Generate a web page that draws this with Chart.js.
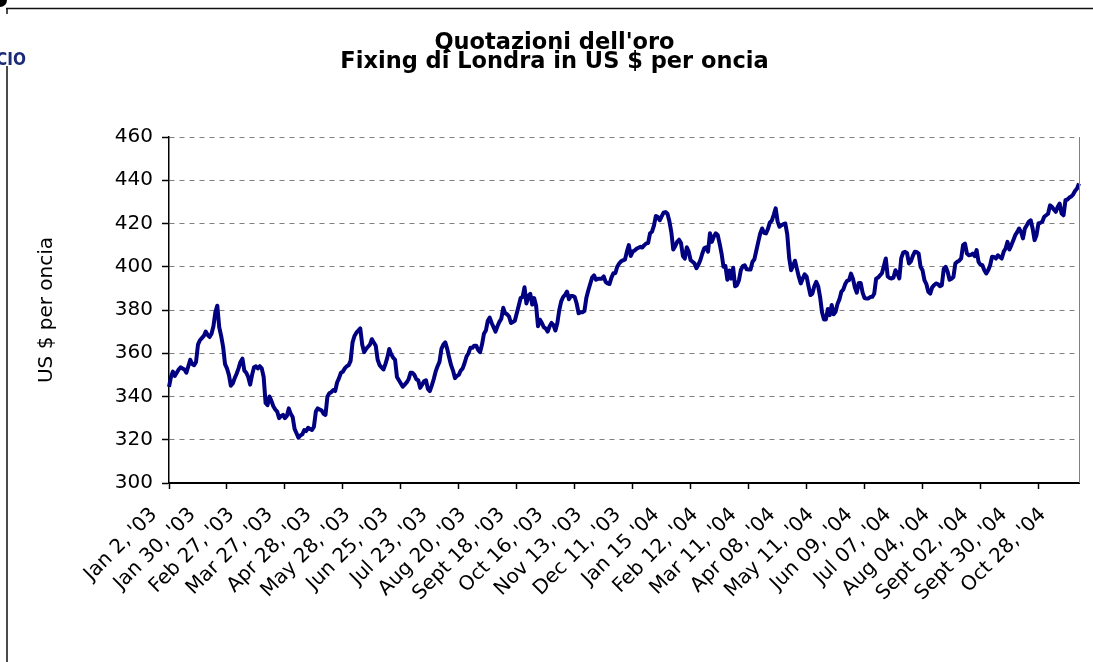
<!DOCTYPE html>
<html>
<head>
<meta charset="utf-8">
<title>Quotazioni dell'oro</title>
<script src="https://cdn.jsdelivr.net/npm/chart.js@4.4.1/dist/chart.umd.min.js"></script>
<style>
  html, body { margin: 0; padding: 0; background: #fff; }
  #wrap { width: 1093px; height: 662px; }
</style>
</head>
<body>
<div id="wrap"><canvas id="goldChart" width="1093" height="662"></canvas></div>
<script>
// one label every 20 fixings
const tickLabels = [
  "Jan 2, '03", "Jan 30, '03", "Feb 27, '03", "Mar 27, '03", "Apr 28, '03", "May 28, '03",
  "Jun 25, '03", "Jul 23, '03", "Aug 20, '03", "Sept 18, '03", "Oct 16, '03", "Nov 13, '03",
  "Dec 11, '03", "Jan 15 '04", "Feb 12, '04", "Mar 11, '04", "Apr 08, '04", "May 11, '04",
  "Jun 09, '04", "Jul 07, '04", "Aug 04, '04", "Sept 02, '04", "Sept 30, '04", "Oct 28, '04",
];

// London fixing, US $ per ounce, one row per label interval
const goldPrices = [
  344.5, 349, 351.5, 349.5, 351, 352.5, 353.5, 353, 352.5, 351, 354, 357, 355, 354.5, 356, 364, 366, 367, 368, 370,
  368.5, 367.5, 369, 372.5, 379, 382, 372, 368, 363, 355, 353, 350, 345, 346, 348.5, 350.5, 353, 356, 357.5, 352,
  351, 349, 345.5, 350, 353.5, 354, 353, 354, 353, 349, 337, 336, 340, 338, 335.5, 334, 333, 330, 331, 331.5,
  330, 331, 334.5, 332, 330.5, 325, 323, 321, 322, 322.5, 324.5, 324, 325.5, 325, 324.5, 326, 333, 334.5, 334, 333.5,
  332, 331.5, 340, 341.5, 342, 343, 342.5, 346.5, 348.5, 351, 351.5, 353, 354, 354.5, 356.5, 365, 368, 369.5, 370.5, 371.5,
  364, 360.5, 362, 363, 364, 366.5, 365, 363.5, 357, 354.5, 353.5, 352.5, 355, 358, 362, 359.5, 358, 357, 349, 347.5,
  346, 344.5, 345.5, 346.5, 348, 351, 351, 350, 348, 347.5, 344, 345.5, 347, 347.5, 343.5, 342.5, 345, 348, 351.5, 354,
  356, 362, 364, 365, 362, 358, 354.5, 352, 348.5, 349.5, 350, 352, 353, 355.5, 358.5, 360, 362.5, 362.5, 363.5, 363.5,
  361.5, 360.5, 364, 369, 370.5, 375, 376.5, 374, 372, 370, 372.5, 374.5, 376, 381, 378.5, 378, 377, 374, 374.5, 375,
  378.5, 382, 385.5, 386, 390.5, 383, 386.5, 387.5, 382.5, 385.5, 382, 372.5, 375.5, 374, 372, 371.5, 370, 372.5, 374, 373,
  370.5, 374, 380, 384, 386, 387, 388.5, 385, 386.5, 386.5, 386, 383, 378.5, 379, 379, 379.5, 385.5, 389, 392, 395,
  396, 394, 394.5, 394.5, 394.5, 395.5, 393, 392.3, 392, 395, 397, 397, 400, 401.5, 402.5, 403, 403.3, 407, 410, 405,
  407, 407.5, 408.3, 408.8, 409.2, 408.9, 410, 410.8, 411, 415.5, 416.2, 419, 423.5, 423, 421.5, 423.3, 425, 425.3, 424.5, 421,
  416, 408, 409.5, 411.5, 412.5, 411, 405, 403.8, 409, 407, 403, 402.3, 401.5, 399.3, 401, 403, 406, 408.5, 409, 407,
  415.5, 411.5, 414, 415.4, 414.7, 410.7, 406.1, 400, 400.3, 394, 398.3, 394.5, 399.5, 391, 391.5, 393.8, 398.5, 400.3, 400.7, 398.8,
  398.7, 398.7, 402.3, 403.5, 407.5, 411.5, 415.4, 417.7, 415.7, 415.4, 417.5, 420.5, 421.3, 424, 427, 421, 418.5, 419.2, 419.7, 420,
  415, 404, 398.4, 400.5, 402.8, 399, 395.3, 392.3, 394.5, 396.5, 395.5, 391, 386.9, 387.6, 391, 393, 391, 386, 379, 375.6,
  375.6, 380.5, 377.6, 382.3, 378, 379.2, 382.8, 384.9, 388.4, 389.5, 392, 393.5, 393.8, 396.8, 394.5, 390.4, 388, 392.5, 392.5, 388,
  385.5, 385.3, 385.3, 386, 386.1, 387.5, 394.5, 395, 396, 397, 400.3, 403.8, 395.5, 394.8, 394.6, 395, 398.4, 397, 394.6, 404,
  406.5, 406.9, 406.3, 401.5, 402.5, 405, 406.9, 406.8, 406.1, 400, 398.4, 393.8, 392, 388.4, 387.6, 390.5, 391.5, 392.3, 392, 391,
  391.5, 399, 400, 397.7, 394, 394.5, 395.3, 401.5, 402.3, 402.8, 403.8, 410, 410.7, 406.1, 405.3, 405.5, 406.1, 404.9, 407.7, 402.3,
  401, 400.7, 398.4, 396.9, 398.4, 400.7, 404.6, 404.5, 403.8, 405.3, 404.5, 403.8, 406.9, 408.4, 411.5, 408, 410, 412.3, 414.6, 416,
  417.7, 416.1, 413.1, 417.7, 419.2, 420.8, 421.5, 417.7, 412.3, 414.6, 420, 420.3, 420.8, 423.1, 423.8, 424.5, 428.4, 427.7, 426.5, 425.4,
  427.7, 429.2, 424.6, 423.8, 430.8, 431.1, 432, 432.5, 433.5, 435.1, 436.2, 438.5,
];

const yMin = 300;
const yMax = 460;
const yStep = 20;
const labelEvery = 20;
const tickMarkEvery = 30;

const FONT = "'DejaVu Sans', Verdana, sans-serif";

// category labels: only every 20th point gets a date
const labels = goldPrices.map((_, i) => (i % labelEvery === 0 ? tickLabels[i / labelEvery] : ""));

// scanned page bits: frame lines, logo corner, plot area right edge
const pageDecor = {
  id: "pageDecor",
  beforeDraw(chart) {
    const ctx = chart.ctx;
    ctx.save();
    ctx.fillStyle = "#fff";
    ctx.fillRect(0, 0, chart.width, chart.height);
    ctx.restore();
  },
  afterDraw(chart) {
    const { ctx, chartArea } = chart;
    ctx.save();
    ctx.strokeStyle = "#111";
    ctx.lineWidth = 1.5;
    ctx.beginPath();
    ctx.moveTo(6, 8.5);
    ctx.lineTo(chart.width, 8.5);
    ctx.moveTo(7, 8);
    ctx.lineTo(7, 14);
    ctx.moveTo(7, 66);
    ctx.lineTo(7, chart.height);
    ctx.stroke();

    ctx.fillStyle = "#000";
    ctx.beginPath();
    ctx.arc(0, 0, 7, 0, Math.PI * 2);
    ctx.fill();

    ctx.fillStyle = "#1c2b78";
    ctx.font = "bold 17px 'DejaVu Sans Condensed', 'DejaVu Sans'";
    ctx.textBaseline = "alphabetic";
    ctx.fillText("CIO", -4, 65);

    // plot area right border
    ctx.strokeStyle = "#808080";
    ctx.lineWidth = 1;
    ctx.beginPath();
    ctx.moveTo(chartArea.right + 0.5, chartArea.top);
    ctx.lineTo(chartArea.right + 0.5, chartArea.bottom);
    ctx.stroke();
    ctx.restore();
  },
};

new Chart(document.getElementById("goldChart"), {
  type: "line",
  data: {
    labels: labels,
    datasets: [
      {
        label: "Oro",
        data: goldPrices,
        borderColor: "#000080",
        borderWidth: 4,
        borderJoinStyle: "round",
        pointRadius: 0,
        tension: 0,
        fill: false,
      },
    ],
  },
  options: {
    responsive: false,
    animation: false,
    devicePixelRatio: 1,
    layout: { padding: { left: 30, right: 14, top: 0, bottom: 0 } },
    plugins: {
      legend: { display: false },
      tooltip: { enabled: false },
      title: {
        display: true,
        text: ["Quotazioni dell'oro", "Fixing di Londra in US $ per oncia"],
        color: "#000",
        font: { family: FONT, size: 22.5, weight: "bold", lineHeight: "19px" },
        padding: { top: 34, bottom: 65 },
      },
    },
    scales: {
      x: {
        type: "category",
        grid: {
          drawOnChartArea: false,
          drawTicks: true,
          tickLength: 6,
          tickWidth: 1.5,
          tickColor: (c) => (c.index % tickMarkEvery === 0 ? "#000" : "rgba(0,0,0,0)"),
        },
        border: { color: "#000", width: 2 },
        ticks: {
          autoSkip: false,
          minRotation: 45,
          maxRotation: 45,
          color: "#000",
          font: { family: FONT, size: 20 },
          padding: 14,
          labelOffset: -15,
        },
        afterFit: (scale) => {
          scale.height = 179;
          scale.paddingLeft = 0;
          scale.paddingRight = 0;
        },
      },
      y: {
        min: yMin,
        max: yMax,
        grid: {
          color: (c) => (c.tick && c.tick.value === yMin ? "rgba(0,0,0,0)" : "#808080"),
          lineWidth: 1,
          tickColor: "#000",
          tickLength: 7,
          tickWidth: 1.5,
        },
        border: { color: "#000", width: 1.5, dash: [5, 5] },
        ticks: {
          stepSize: yStep,
          color: "#000",
          font: { family: FONT, size: 20 },
          padding: 9,
        },
        title: {
          display: true,
          text: "US $ per oncia",
          color: "#000",
          font: { family: FONT, size: 20 },
          padding: { top: 5, bottom: 0 },
        },
        afterFit: (scale) => {
          scale.width = 139;
        },
      },
    },
  },
  plugins: [pageDecor],
});
</script>
</body>
</html>
